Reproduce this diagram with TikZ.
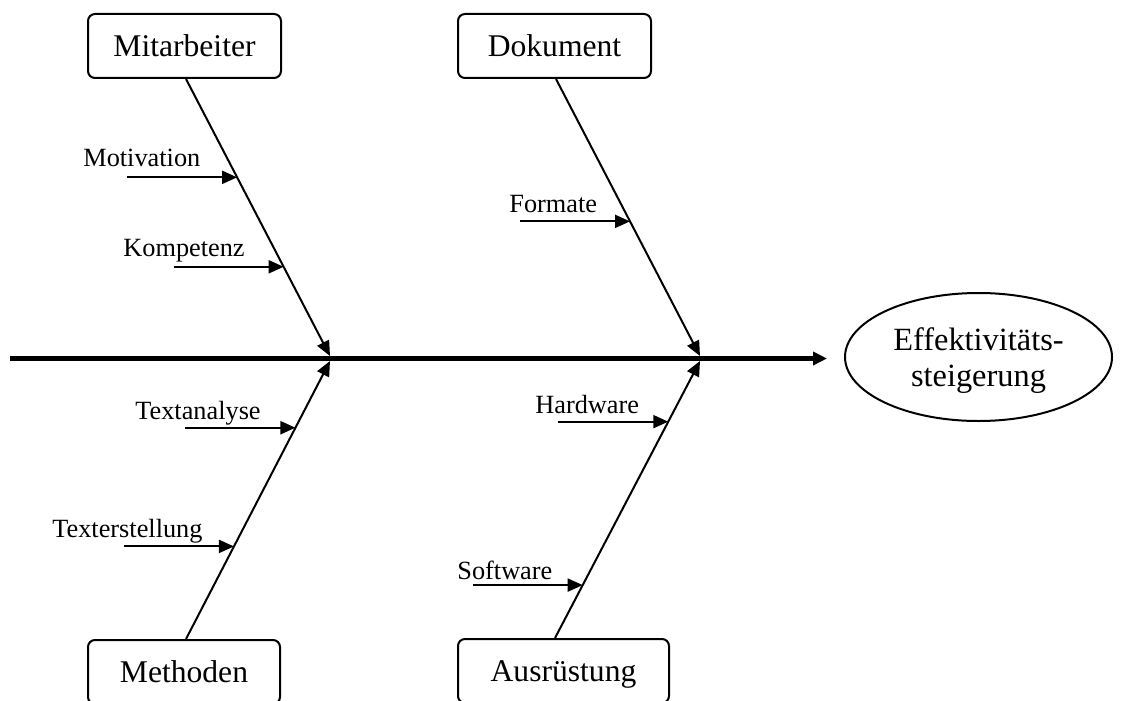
\documentclass[tikz,border=0pt]{standalone}
\usepackage{fontspec}
\setmainfont{Liberation Serif}
\usetikzlibrary{arrows.meta,calc,shapes.geometric}
\begin{document}
\begin{tikzpicture}[x=0.5pt,y=-0.5pt,
  cause/.style={draw,line width=1pt,rounded corners=3.5pt,minimum height=32pt,
    inner sep=0pt,text height=13.5pt,text depth=3pt,font=\fontsize{15.8}{19}\selectfont},
  bone/.style={line width=1pt,-{Triangle[length=7.5pt,width=6.5pt]}},
  twig/.style={line width=1pt,-{Triangle[length=7.5pt,width=6.5pt]}},
  lbl/.style={anchor=base west,inner sep=0pt,font=\fontsize{13.15}{15}\selectfont},
  spine/.style={line width=2.6pt,-{Triangle[length=7pt,width=6.5pt]}}]
\useasboundingbox (0,0) rectangle (1122,700);
\clip (0,0) rectangle (1122,700);

% effect
\node[draw,ellipse,line width=1pt,minimum width=133.5pt,minimum height=64pt,
  inner sep=0pt,align=center,font=\fontsize{16.2}{18}\selectfont]
  (eff) at (978.5,357) {\rule{0pt}{15pt}Effektivitäts-\\steigerung};

% main spine
\coordinate (tail) at (10,358.5);
\coordinate (head) at (827,358.5);
\draw[spine] (tail) -- (head);

% cause categories
\node[cause,minimum width=96.5pt]  (mit) at (184.5,46)  {Mitarbeiter};
\node[cause,minimum width=96.5pt]  (dok) at (554.5,46)  {Dokument};
\node[cause,minimum width=96pt]    (met) at (184,672)   {Methoden};
\node[cause,minimum width=105.5pt] (aus) at (563.5,671) {Ausrüstung};

% junctions on the spine
\coordinate (jMit) at (330,356);
\coordinate (jDok) at (700,356);
\coordinate (jMet) at (330,361);
\coordinate (jAus) at (700,361);

% feet of the bones at the boxes
\coordinate (fMit) at ([xshift=0.75pt]mit.south);
\coordinate (fDok) at ([xshift=0.75pt]dok.south);
\coordinate (fMet) at ([xshift=1pt]met.north);
\coordinate (fAus) at ([xshift=-4.25pt]aus.north);

\draw[bone] (fMit) -- (jMit);
\draw[bone] (fDok) -- (jDok);
\draw[bone] (fMet) -- (jMet);
\draw[bone] (fAus) -- (jAus);

% sub-causes: tips on the bones
\coordinate (tMot) at ($(fMit)!0.355!(jMit)$);
\coordinate (tKom) at ($(fMit)!0.678!(jMit)$);
\coordinate (tFor) at ($(fDok)!0.514!(jDok)$);
\coordinate (tAna) at ($(fMet)!0.760!(jMet)$);
\coordinate (tErs) at ($(fMet)!0.333!(jMet)$);
\coordinate (tHar) at ($(fAus)!0.781!(jAus)$);
\coordinate (tSof) at ($(fAus)!0.191!(jAus)$);

\draw[twig] ($(tMot)+(-110,0)$) -- (tMot);
\draw[twig] ($(tKom)+(-110,0)$) -- (tKom);
\draw[twig] ($(tFor)+(-110,0)$) -- (tFor);
\draw[twig] ($(tAna)+(-110,0)$) -- (tAna);
\draw[twig] ($(tErs)+(-110,0)$) -- (tErs);
\draw[twig] ($(tHar)+(-110,0)$) -- (tHar);
\draw[twig] ($(tSof)+(-110,0)$) -- (tSof);

% sub-cause labels
\node[lbl] (lMot) at (83,167)  {Motivation};
\node[lbl] (lKom) at (123,256) {Kompetenz};
\node[lbl] (lFor) at (509,213) {Formate};
\node[lbl] (lAna) at (135,419) {Textanalyse};
\node[lbl] (lErs) at (52,537)  {Texterstellung};
\node[lbl] (lHar) at (535,413) {Hardware};
\node[lbl] (lSof) at (457,579) {Software};
\end{tikzpicture}
\end{document}
